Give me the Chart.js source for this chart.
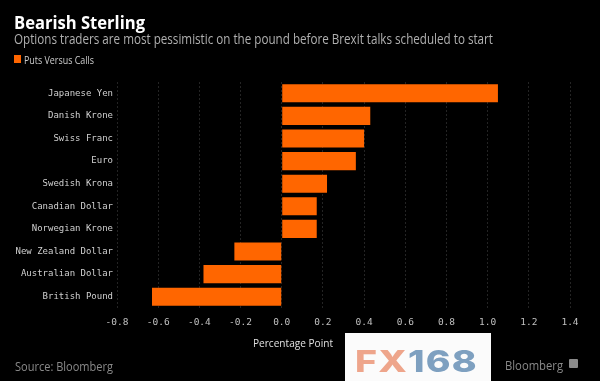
<!DOCTYPE html>
<html><head><meta charset="utf-8">
<script src="https://cdn.jsdelivr.net/npm/chart.js@4/dist/chart.umd.min.js"></script>
<style>
html,body{margin:0;padding:0;background:#000;width:600px;height:381px;overflow:hidden}
#wrap{position:relative;width:600px;height:381px;background:#000}
canvas{position:absolute;left:0;top:0}
.t{position:absolute;white-space:nowrap;transform-origin:0 0;line-height:1}
</style></head><body>
<div id="wrap">
<canvas id="c" width="600" height="381"></canvas>
<div class="t" id="title" data-w="131" style="left:14px;top:10px;font:bold 18px 'Open Sans';color:#fff">Bearish Sterling</div>
<div class="t" id="sub" data-w="479" style="left:14px;top:29px;font:14px 'Open Sans';color:#b0b0b0">Options traders are most pessimistic on the pound before Brexit talks scheduled to start</div>
<div style="position:absolute;left:14px;top:55px;width:7px;height:8px;background:#ff6600"></div>
<div class="t" id="leg" data-w="70" style="left:24px;top:53px;font:10.5px 'Open Sans';color:#ccc">Puts Versus Calls</div>
<div class="t" id="axt" data-w="80" style="left:253px;top:335px;font:11px 'Open Sans';color:#e0e0e0">Percentage Point</div>
<div class="t" id="src" data-w="98" style="left:15px;top:358px;font:12px 'Open Sans';color:#8a8a8a">Source: Bloomberg</div>
<div class="t" id="bbg" data-w="58" style="left:505px;top:357px;font:12px 'Open Sans';color:#8a8a8a">Bloomberg</div>
<div style="position:absolute;left:569px;top:359px;width:9px;height:9px;background:#8a8a8a;border-radius:1px"></div>
<div style="position:absolute;left:345px;top:333px;width:146px;height:48px;background:#fbfbfb"></div>
<div class="t" id="fx" data-w="123" style="left:355px;top:343px;font:800 30px 'Inter';letter-spacing:1px"><span style="color:#eea58b">FX</span><span style="color:#7ea0c0">168</span></div>
</div>
<script>
const categories = ["Japanese Yen","Danish Krone","Swiss Franc","Euro","Swedish Krona","Canadian Dollar","Norwegian Krone","New Zealand Dollar","Australian Dollar","British Pound"];
const putsVersusCalls = [1.05, 0.43, 0.40, 0.36, 0.22, 0.17, 0.17, -0.23, -0.38, -0.63];
const tickValues = [-0.8,-0.6,-0.4,-0.2,0.0,0.2,0.4,0.6,0.8,1.0,1.2,1.4];
const tickLabels = ["-0.8","-0.6","-0.4","-0.2","0.0","0.2","0.4","0.6","0.8","1.0","1.2","1.4"];

document.querySelectorAll('.t[data-w]').forEach(el=>{
  const w = el.getBoundingClientRect().width;
  const target = +el.dataset.w;
  el.style.transform = 'scaleX(' + (target / w) + ')';
});

new Chart(document.getElementById('c'), {
  type: 'bar',
  data: {
    labels: categories,
    datasets: [{
      label: 'Puts Versus Calls',
      data: putsVersusCalls,
      backgroundColor: '#ff6600',
      borderWidth: 0,
      categoryPercentage: 1.0,
      barPercentage: 0.8
    }]
  },
  options: {
    indexAxis: 'y',
    responsive: false,
    animation: false,
    devicePixelRatio: 1,
    layout: { padding: { left: 0, right: 30, top: 82, bottom: 0 } },
    plugins: { legend: { display: false }, tooltip: { enabled: false }, title: { display: false } },
    scales: {
      x: {
        min: -0.8, max: 1.4,
        afterBuildTicks: s => { s.ticks = tickValues.map(v => ({ value: v })); },
        afterFit: s => { s.height = 73; },
        ticks: {
          callback: (v, i) => tickLabels[i],
          color: '#c0c0c0',
          font: { family: 'DejaVu Sans Mono', size: 9.5 },
          padding: 9,
          maxRotation: 0, autoSkip: false
        },
        grid: { color: 'rgba(255,255,255,0.14)', lineWidth: 1, drawTicks: false },
        border: { display: false, dash: [2, 2] }
      },
      y: {
        afterFit: s => { s.width = 117; },
        ticks: {
          color: '#d0d0d0',
          font: { family: 'DejaVu Sans Mono', size: 9 },
          padding: 4,
          autoSkip: false
        },
        grid: { display: false, drawTicks: false },
        border: { display: false }
      }
    }
  }
});
</script>
</body></html>
